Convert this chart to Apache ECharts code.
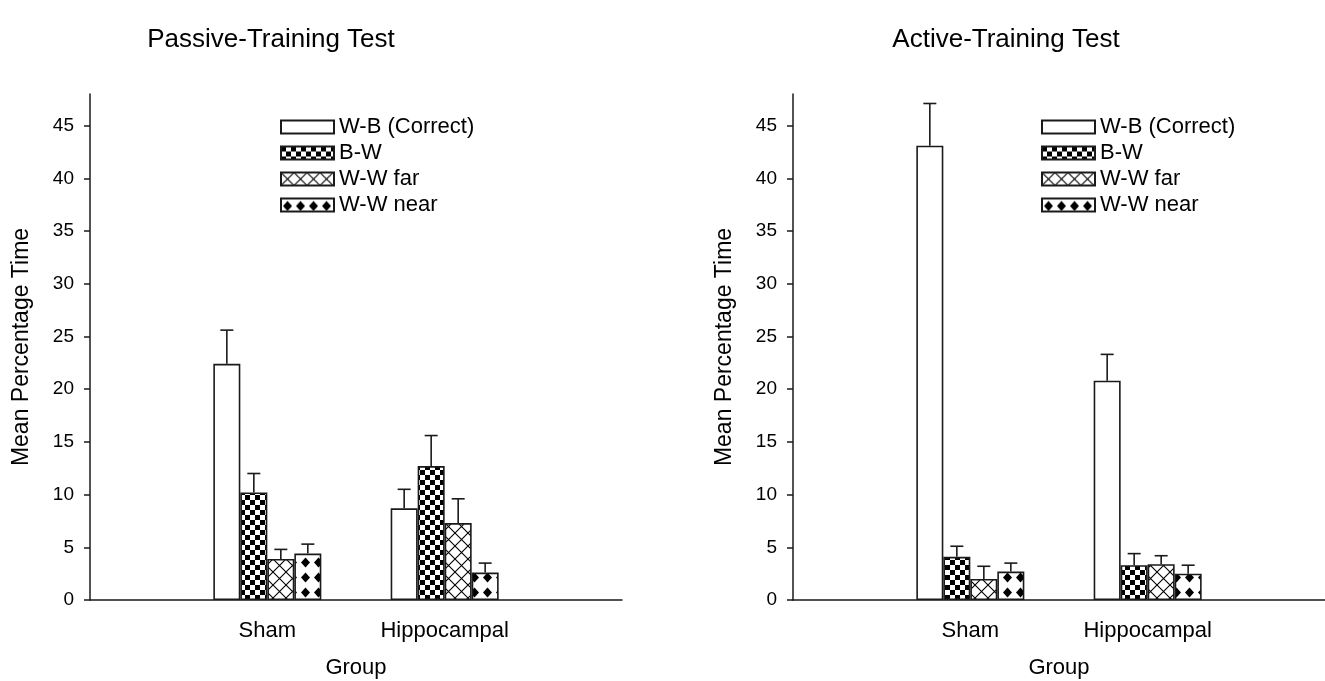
<!DOCTYPE html>
<html><head><meta charset="utf-8">
<script src="https://cdn.jsdelivr.net/npm/echarts@6/dist/echarts.min.js"></script>
<style>html,body{margin:0;padding:0;background:#fff}#c{width:1325px;height:681px}</style>
</head><body><div id="c"></div>
<script>
// ---- data ----
const groups = ['Sham', 'Hippocampal'];
const seriesNames = ['W-B (Correct)', 'B-W', 'W-W far', 'W-W near'];
const yTicks = [0, 5, 10, 15, 20, 25, 30, 35, 40, 45];
const panelTitles = ['Passive-Training Test', 'Active-Training Test'];

const passiveWB = [22.4, 8.7];   const passiveWBsem = [3.2, 1.8];
const passiveBW = [10.2, 12.7];  const passiveBWsem = [1.8, 2.9];
const passiveFar = [3.9, 7.3];   const passiveFarSem = [0.9, 2.3];
const passiveNear = [4.4, 2.6];  const passiveNearSem = [0.9, 0.9];

const activeWB = [43.1, 20.8];   const activeWBsem = [4.0, 2.5];
const activeBW = [4.1, 3.3];     const activeBWsem = [1.0, 1.1];
const activeFar = [2.0, 3.4];    const activeFarSem = [1.2, 0.8];
const activeNear = [2.7, 2.5];   const activeNearSem = [0.8, 0.8];

// ---- styling / layout ----
const FONT = '"Liberation Sans", Arial, Helvetica, sans-serif';
const INK = '#1a1a1a';
const BAR_W = 27, CAP = 13;

function makePattern(kind) {
  const c = document.createElement('canvas');
  const ctx = c.getContext('2d');
  if (kind === 'check') {
    c.width = 10; c.height = 10;
    ctx.fillStyle = '#fff'; ctx.fillRect(0, 0, 10, 10);
    ctx.fillStyle = '#000';
    ctx.fillRect(0, 0, 5, 5); ctx.fillRect(5, 5, 5, 5);
  } else if (kind === 'cross') {
    c.width = 13; c.height = 13;
    ctx.fillStyle = '#fff'; ctx.fillRect(0, 0, 13, 13);
    ctx.strokeStyle = '#000'; ctx.lineWidth = 1.1;
    ctx.beginPath();
    ctx.moveTo(0, 0); ctx.lineTo(13, 13);
    ctx.moveTo(13, 0); ctx.lineTo(0, 13);
    ctx.stroke();
  } else if (kind === 'diamond') {
    c.width = 13; c.height = 15;
    ctx.fillStyle = '#fff'; ctx.fillRect(0, 0, 13, 15);
    ctx.fillStyle = '#000';
    ctx.beginPath();
    ctx.moveTo(6.5, 2.5); ctx.lineTo(11, 7.5); ctx.lineTo(6.5, 12.5); ctx.lineTo(2, 7.5);
    ctx.closePath(); ctx.fill();
  }
  return { image: c, repeat: 'repeat' };
}
const fills = ['#ffffff', makePattern('check'), makePattern('cross'), makePattern('diamond')];

const cats = [''].concat(groups, ['']);
const pad = arr => [null].concat(arr, [null]);

const panels = [
  { means: [passiveWB, passiveBW, passiveFar, passiveNear], sems: [passiveWBsem, passiveBWsem, passiveFarSem, passiveNearSem] },
  { means: [activeWB, activeBW, activeFar, activeNear], sems: [activeWBsem, activeBWsem, activeFarSem, activeNearSem] }
];
const gridLeft = [90, 793];
const titleX = [266, 1001];
const legendLeft = [275, 1036];

function errRender(k) {
  return function (params, api) {
    const ci = api.value(0), m = api.value(1), s = api.value(2);
    const b = api.coord([ci, m]);
    const t = api.coord([ci, m + s]);
    const x = b[0] + (k - 1.5) * BAR_W;
    const st = { stroke: INK, lineWidth: 1.6 };
    return { type: 'group', children: [
      { type: 'line', shape: { x1: x, y1: b[1], x2: x, y2: t[1] }, style: st },
      { type: 'line', shape: { x1: x - CAP / 2, y1: t[1], x2: x + CAP / 2, y2: t[1] }, style: st }
    ]};
  };
}

const option = {
  animation: false,
  backgroundColor: '#fff',
  textStyle: { fontFamily: FONT, color: '#000' },
  title: panelTitles.map((t, i) => ({
    text: t, left: titleX[i], top: 22, textAlign: 'center',
    textStyle: { fontFamily: FONT, fontSize: 26, fontWeight: 'normal', color: '#000' }
  })),
  legend: [0, 1].map(i => ({
    orient: 'vertical', left: legendLeft[i], top: 111,
    itemWidth: 53, itemHeight: 13, itemGap: 4, icon: 'rect',
    data: seriesNames,
    selectedMode: false,
    textStyle: { fontFamily: FONT, fontSize: 22, color: '#000', lineHeight: 21 }
  })),
  grid: [0, 1].map(i => ({
    left: gridLeft[i], top: 94, width: 532, height: 506, outerBoundsMode: 'none', containLabel: false
  })),
  xAxis: [0, 1].map(i => ({
    gridIndex: i, type: 'category', data: cats, boundaryGap: false,
    axisLine: { lineStyle: { color: INK, width: 1.5 } },
    axisTick: { show: false },
    axisLabel: { fontFamily: FONT, fontSize: 22, color: '#000', margin: 20, interval: 0 },
    splitLine: { show: false },
    name: 'Group', nameLocation: 'middle', nameGap: 57,
    nameTextStyle: { fontFamily: FONT, fontSize: 22, color: '#000' }
  })),
  yAxis: [0, 1].map(i => ({
    gridIndex: i, type: 'value', min: 0, max: 48,
    axisLine: { show: true, lineStyle: { color: INK, width: 1.5 } },
    axisTick: { show: true, length: 6, customValues: yTicks, lineStyle: { color: INK, width: 1.5 } },
    axisLabel: { fontFamily: FONT, fontSize: 19, color: '#000', margin: 16, customValues: yTicks },
    splitLine: { show: false },
    name: 'Mean Percentage Time', nameLocation: 'middle', nameGap: 57,
    nameTextStyle: { fontFamily: FONT, fontSize: 23, color: '#000' }
  })),
  series: []
};

panels.forEach((p, i) => {
  seriesNames.forEach((n, k) => {
    option.series.push({
      type: 'bar', name: n, xAxisIndex: i, yAxisIndex: i,
      data: pad(p.means[k]), barWidth: BAR_W, barGap: '0%',
      itemStyle: { color: fills[k], borderColor: INK, borderWidth: 1.6 },
      emphasis: { disabled: true }, z: 2
    });
  });
  seriesNames.forEach((n, k) => {
    option.series.push({
      type: 'custom', name: 'err' + i + k, xAxisIndex: i, yAxisIndex: i,
      data: groups.map((g, j) => [j + 1, p.means[k][j], p.sems[k][j]]),
      encode: { x: 0, y: 1 }, renderItem: errRender(k), z: 3, silent: true
    });
  });
});

const chart = echarts.init(document.getElementById('c'), null, { renderer: 'canvas' });
chart.setOption(option);
</script>
</body></html>
